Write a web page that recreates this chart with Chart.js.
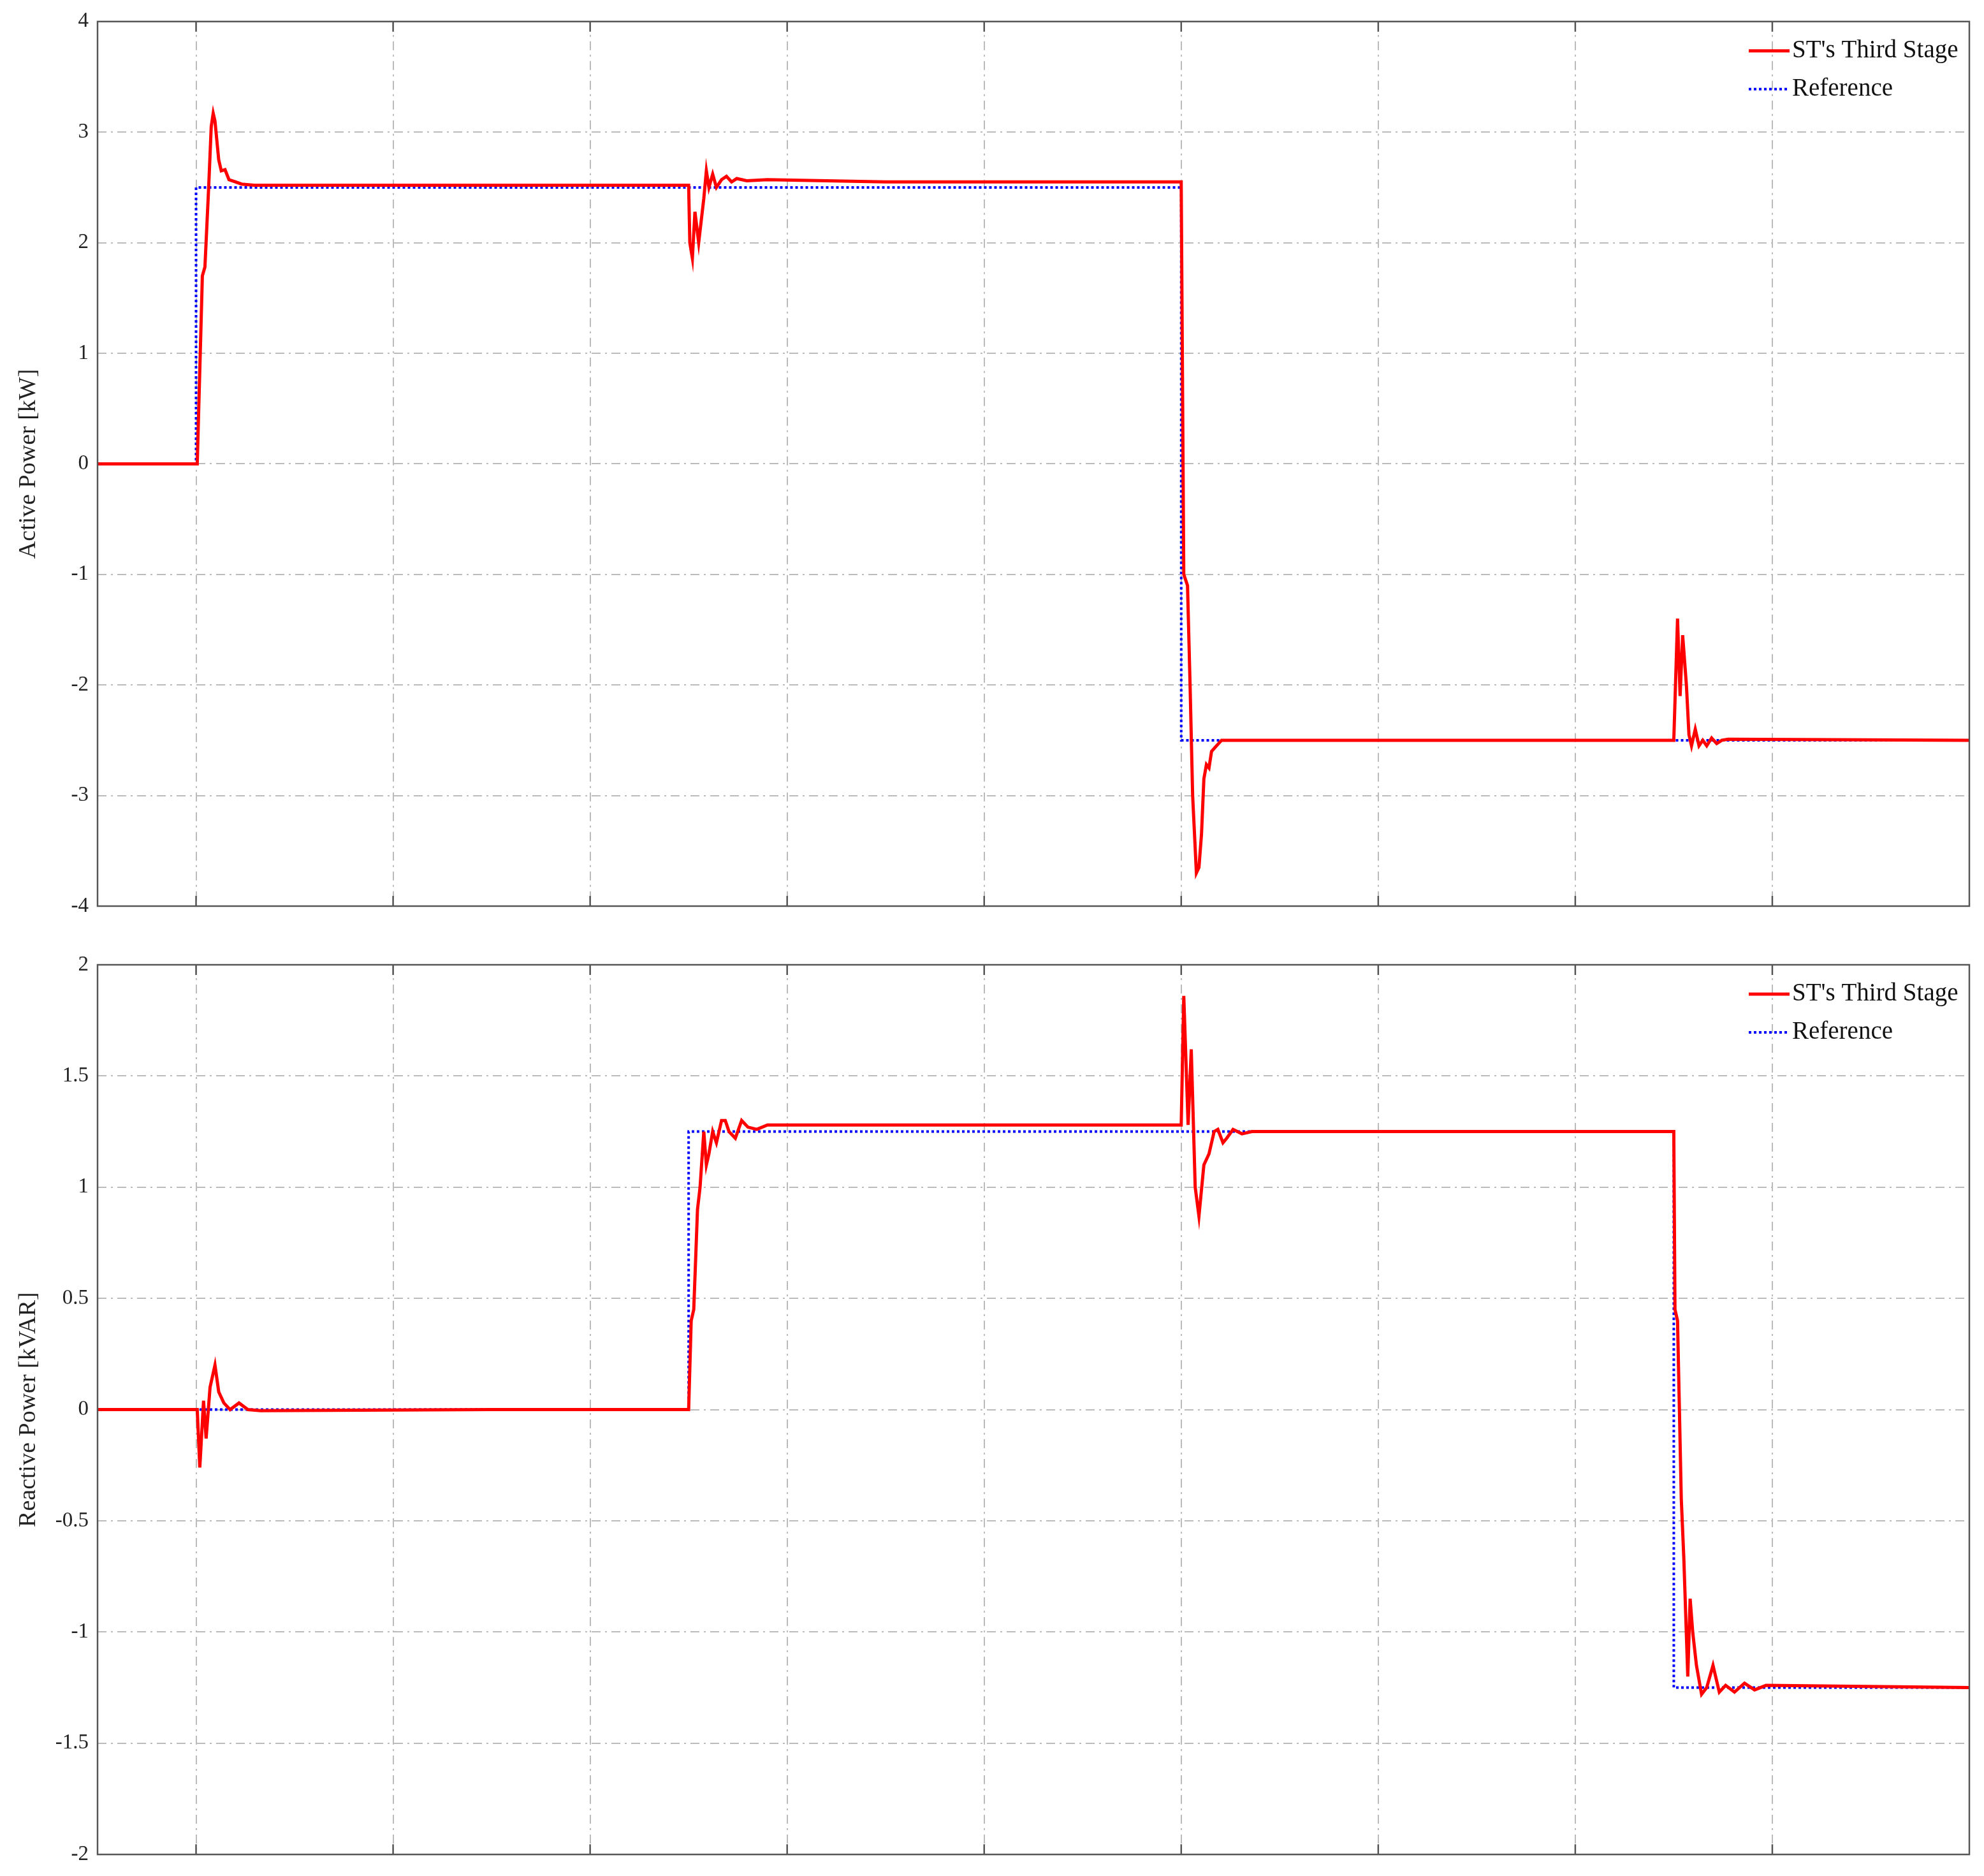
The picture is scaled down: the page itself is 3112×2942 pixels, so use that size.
<!DOCTYPE html>
<html>
<head>
<meta charset="utf-8">
<script src="https://cdn.jsdelivr.net/npm/chart.js@4"></script>
<style>
  body { margin: 0; background: #fff; }
  canvas { position: absolute; left: 0; }
</style>
</head>
<body>
<canvas id="pChart" style="top:0" width="3112" height="1471"></canvas>
<canvas id="qChart" style="top:1471px" width="3112" height="1471"></canvas>
<script>
// time axis (arbitrary units, gridlines every 1)
const activeT = [-0.5, 0, 0.006, 0.032, 0.045, 0.064, 0.077, 0.087, 0.096, 0.115, 0.128, 0.147, 0.167, 0.199, 0.231, 0.295, 1.5,
  2.5, 2.506, 2.519, 2.532, 2.551, 2.577, 2.59, 2.603, 2.622, 2.641, 2.667, 2.692, 2.718, 2.744, 2.795, 2.9, 3.5,
  5.0, 5.013, 5.032, 5.045, 5.058, 5.077, 5.09, 5.103, 5.115, 5.128, 5.141, 5.154, 5.179, 5.205, 5.263, 6.5,
  7.5, 7.519, 7.532, 7.545, 7.564, 7.577, 7.59, 7.609, 7.628, 7.647, 7.667, 7.692, 7.718, 7.744, 7.776, 9];
const activeP = [0, 0, 0, 1.7, 1.78, 2.5, 3.05, 3.17, 3.1, 2.75, 2.65, 2.66, 2.57, 2.55, 2.53, 2.52, 2.52,
  2.52, 2.0, 1.86, 2.28, 2.0, 2.4, 2.65, 2.5, 2.62, 2.5, 2.57, 2.6, 2.55, 2.58, 2.56, 2.57, 2.55,
  2.55, -1.0, -1.1, -2.0, -3.0, -3.7, -3.65, -3.35, -2.85, -2.72, -2.75, -2.6, -2.55, -2.5, -2.5, -2.5,
  -2.5, -1.4, -2.1, -1.55, -2.0, -2.45, -2.55, -2.4, -2.55, -2.5, -2.55, -2.48, -2.53, -2.5, -2.49, -2.5];
const activeRefT = [-0.5, 0, 0, 5, 5, 9];
const activeRefP = [0, 0, 2.5, 2.5, -2.5, -2.5];

const reactiveT = [-0.5, 0, 0.006, 0.019, 0.038, 0.051, 0.071, 0.096, 0.115, 0.141, 0.173, 0.218, 0.263, 0.327, 1.5,
  2.5, 2.513, 2.526, 2.545, 2.558, 2.577, 2.59, 2.603, 2.622, 2.641, 2.641, 2.667, 2.686, 2.705, 2.737, 2.769, 2.801, 2.846, 2.9, 3.5,
  5.0, 5.013, 5.035, 5.051, 5.071, 5.09, 5.115, 5.141, 5.167, 5.186, 5.212, 5.231, 5.263, 5.308, 5.359, 6.5,
  7.5, 7.506, 7.519, 7.538, 7.551, 7.571, 7.583, 7.596, 7.615, 7.641, 7.667, 7.699, 7.731, 7.763, 7.808, 7.859, 7.91, 7.968, 9];
const reactiveQ = [0, 0, 0, -0.26, 0.04, -0.13, 0.1, 0.2, 0.08, 0.03, 0.0, 0.03, 0.0, -0.005, 0,
  0, 0.4, 0.45, 0.9, 1.0, 1.25, 1.1, 1.15, 1.25, 1.2, 1.2, 1.3, 1.3, 1.25, 1.22, 1.3, 1.27, 1.26, 1.28, 1.28,
  1.28, 1.86, 1.28, 1.62, 1.0, 0.87, 1.1, 1.15, 1.25, 1.26, 1.2, 1.22, 1.26, 1.24, 1.25, 1.25,
  1.25, 0.45, 0.4, -0.4, -0.67, -1.2, -0.85, -1.0, -1.15, -1.28, -1.25, -1.15, -1.27, -1.24, -1.27, -1.23, -1.26, -1.24, -1.25];
const reactiveRefT = [-0.5, 2.5, 2.5, 7.5, 7.5, 9];
const reactiveRefQ = [0, 0, 1.25, 1.25, -1.25, -1.25];

const activeTicks = [-4, -3, -2, -1, 0, 1, 2, 3, 4];
const reactiveTicks = [-2, -1.5, -1, -0.5, 0, 0.5, 1, 1.5, 2];

const FONT = "'Liberation Serif', 'DejaVu Serif', serif";

const zip = (xs, ys) => xs.map((x, i) => ({ x: x, y: ys[i] }));

// frame box + legend drawn inside the plot area
const framePlugin = {
    id: 'frame',
    afterDraw(chart) {
        const { ctx, chartArea: a } = chart;
        ctx.save();
        ctx.strokeStyle = '#555';
        ctx.lineWidth = 2.5;
        ctx.setLineDash([]);
        ctx.strokeRect(a.left, a.top, a.right - a.left, a.bottom - a.top);
        // small tick marks at top and bottom
        const xs = chart.scales.x;
        for (let v = 0; v <= 8; v++) {
            const px = xs.getPixelForValue(v);
            ctx.beginPath();
            ctx.moveTo(px, a.top); ctx.lineTo(px, a.top + 16);
            ctx.moveTo(px, a.bottom); ctx.lineTo(px, a.bottom - 16);
            ctx.stroke();
        }
        // legend
        const lx = a.right - 346, ly = a.top + 46;
        chart.data.datasets.forEach((ds, i) => {
            const y = ly + i * 60;
            ctx.strokeStyle = ds.borderColor;
            ctx.lineWidth = ds.borderWidth;
            ctx.setLineDash(ds.borderDash || []);
            ctx.beginPath();
            ctx.moveTo(lx, y); ctx.lineTo(lx + 64, y);
            ctx.stroke();
            ctx.setLineDash([]);
            ctx.fillStyle = '#111';
            ctx.font = '39px ' + FONT;
            ctx.textBaseline = 'middle';
            ctx.fillText(ds.label, lx + 68, y);
        });
        ctx.restore();
    }
};

const gridOpts = { color: '#bbb', lineWidth: 2, drawTicks: false };
const borderOpts = { display: false, dash: [14, 7, 3, 7] };

function makeChart(id, redData, refData, ticks, title, pad) {
    new Chart(document.getElementById(id), {
        type: 'line',
        data: {
            datasets: [{
                label: "ST's Third Stage",
                data: redData,
                borderColor: '#ff0000',
                borderWidth: 5,
                pointRadius: 0,
                tension: 0
            }, {
                label: 'Reference',
                data: refData,
                borderColor: '#0000ff',
                borderWidth: 4,
                borderDash: [4, 4],
                pointRadius: 0,
                tension: 0
            }]
        },
        options: {
            responsive: false,
            animation: false,
            devicePixelRatio: 1,
            layout: { padding: { top: pad.top, bottom: pad.bottom, right: 23, left: 22 } },
            plugins: { legend: { display: false }, tooltip: { enabled: false } },
            scales: {
                x: {
                    type: 'linear',
                    min: -0.5, max: 9,
                    ticks: { display: false, stepSize: 1 },
                    border: borderOpts,
                    grid: gridOpts,
                    afterFit: s => { s.height = 0; }
                },
                y: {
                    min: ticks[0], max: ticks[ticks.length - 1],
                    afterBuildTicks: s => { s.ticks = ticks.map(v => ({ value: v })); },
                    ticks: { color: '#222', font: { family: FONT, size: 33 }, padding: 14,
                             callback: v => String(v) },
                    border: borderOpts,
                    grid: gridOpts,
                    title: { display: true, text: title, color: '#222', font: { family: FONT, size: 38 }, padding: 0 },
                    afterFit: s => { s.width = 131; }
                }
            }
        },
        plugins: [framePlugin]
    });
}

makeChart('pChart', zip(activeT, activeP), zip(activeRefT, activeRefP), activeTicks,
    'Active Power [kW]', { top: 30, bottom: 50 });
makeChart('qChart', zip(reactiveT, reactiveQ), zip(reactiveRefT, reactiveRefQ), reactiveTicks,
    'Reactive Power [kVAR]', { top: 42, bottom: 32 });
</script>
</body>
</html>
